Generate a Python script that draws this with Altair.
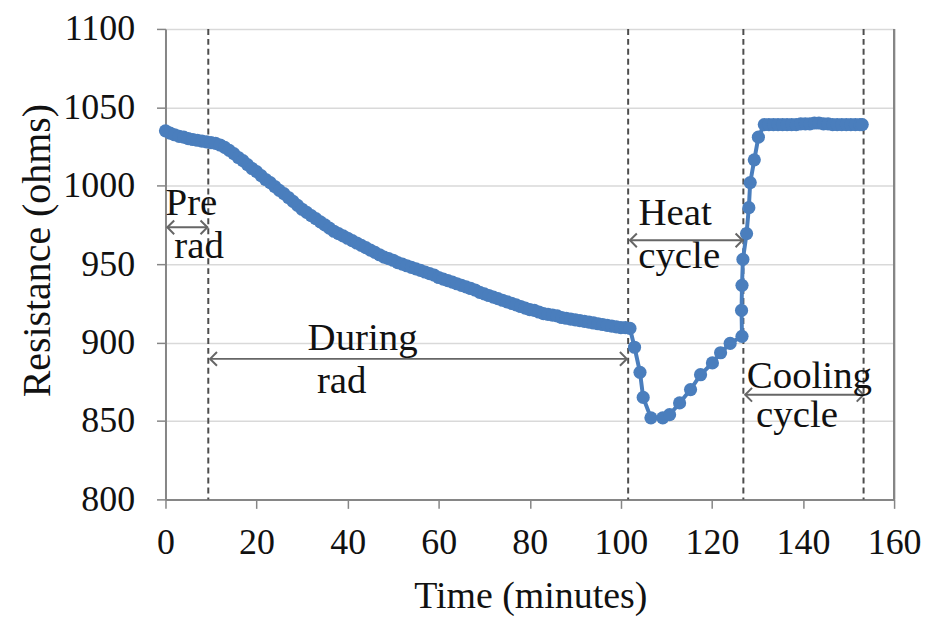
import altair as alt
import pandas as pd

time_min = [0, 1, 2, 3, 4, 5, 6, 7, 8, 9, 10, 11, 12, 13, 14, 15, 16, 17, 18, 19,
            20, 21, 22, 23, 24, 25, 26, 27, 28, 29, 30, 31, 32, 33, 34, 35, 36, 37, 38, 39,
            40, 41, 42, 43, 44, 45, 46, 47, 48, 49, 50, 51, 52, 53, 54, 55, 56, 57, 58, 59,
            60, 61, 62, 63, 64, 65, 66, 67, 68, 69, 70, 71, 72, 73, 74, 75, 76, 77, 78, 79,
            80, 81, 82, 83, 84, 85, 86, 87, 88, 89, 90, 91, 92, 93, 94, 95, 96, 97, 98, 99,
            100, 101, 102,
            103.0, 104.2, 104.9, 106.6, 109.2, 110.7, 112.9, 115.3, 117.5, 120.1, 121.9, 124.0, 126.6,
            126.5, 126.6, 126.8, 127.6, 128.1, 128.4, 129.3, 130.2, 131.5,
            132.5, 133.5, 134.5, 135.5, 136.5, 137.5, 138.5, 139.5, 140.5, 141.5, 142.5,
            143.5, 144.5, 145.5, 146.5, 147.5, 148.5, 149.5, 150.5, 151.5, 152.5, 153.0]
resistance = [1035, 1033.5, 1032.5, 1031.5, 1031, 1030, 1029.5, 1029, 1028.5, 1028,
              1027.5, 1027, 1026, 1024.5, 1022.5, 1020.5, 1018, 1016, 1013.5, 1011,
              1009, 1006.5, 1004, 1002, 999.5, 997, 995, 992.5, 990, 987.5,
              985, 983, 981, 979, 977, 975, 973, 971, 969.5, 968,
              966.5, 965, 963.5, 962, 960.5, 959, 957.5, 956, 954.5, 953.5,
              952.5, 951, 950, 949, 948, 947, 946, 945, 944, 943,
              941.5, 940.5, 939.5, 938.5, 937.5, 936.5, 935.5, 934.5, 933.5, 932,
              931, 930, 929, 928, 927, 926, 925, 924, 923, 922,
              921, 920.5, 919.5, 918.5, 918, 917.5, 917, 916, 915.5, 915,
              914.5, 914, 913.5, 913, 912.5, 912, 911.5, 911, 910.5, 910,
              909.5, 909.5, 909,
              897, 881, 865, 852, 852, 854, 861.5, 870, 879.5, 887, 893.5, 899.5, 904,
              920.5, 936.5, 953, 969.5, 986, 1002, 1016.5, 1031, 1039,
              1039, 1039, 1039, 1039, 1039, 1039, 1039, 1039.5, 1039.5, 1039.5, 1040,
              1040, 1039.5, 1039.5, 1039, 1039, 1039, 1039, 1039, 1039, 1039, 1039]

x_ticks = [0, 20, 40, 60, 80, 100, 120, 140, 160]
y_ticks = [800, 850, 900, 950, 1000, 1050, 1100]

# phase boundaries (dashed lines)
phase_lines = [9.4, 101.6, 126.9, 153.3]

# double-headed arrows
arrow_x1 = [0.4, 9.8, 102.0, 127.3]
arrow_x2 = [9.2, 101.3, 126.7, 153.3]
arrow_y = [973.5, 889.6, 965.2, 866.7]

# annotation labels
ann_text = ["Pre", "rad", "During", "rad", "Heat", "cycle", "Cooling", "cycle"]
ann_x = [5.7, 7.4, 43.3, 38.7, 111.9, 112.8, 141.4, 138.7]
ann_y = [981.1, 953.8, 895.3, 868.0, 974.8, 947.4, 871.1, 846.3]

FONT = "Liberation Serif"
BLUE = "#4A7EBD"
GREY = "#666666"

df = pd.DataFrame({"t": time_min, "r": resistance, "seq": list(range(len(time_min)))})
lines_df = pd.DataFrame({"x": phase_lines})
arrows_df = pd.DataFrame({"x1": arrow_x1, "x2": arrow_x2, "y": arrow_y})
ann_df = pd.DataFrame({"text": ann_text, "x": ann_x, "y": ann_y})

xscale = alt.Scale(domain=[0, 160], nice=False, zero=False)
yscale = alt.Scale(domain=[800, 1100], nice=False, zero=False)

xaxis = alt.Axis(values=x_ticks, title="Time (minutes)", grid=False, labelFlush=False,
                 titleX=366, titleY=108, titleBaseline="alphabetic", titleAlign="center",
                 titleFontSize=38, labelPadding=17)
yaxis = alt.Axis(values=y_ticks, title="Resistance (ohms)", grid=True, format="d",
                 labelFlush=False,
                 titleX=-128, titleY=222, titleAngle=-90, titleBaseline="middle",
                 titleAlign="center", titleFontSize=40, labelPadding=22)

series = alt.Chart(df).mark_line(
    color=BLUE, strokeWidth=4,
    point=alt.OverlayMarkDef(color=BLUE, filled=True, size=175, opacity=1)
).encode(
    x=alt.X("t:Q", scale=xscale, axis=xaxis),
    y=alt.Y("r:Q", scale=yscale, axis=yaxis),
    order="seq:Q",
)

dashed = alt.Chart(lines_df).mark_rule(
    color="#4d4d4d", strokeWidth=2, strokeDash=[6, 4]
).encode(x=alt.X("x:Q", scale=xscale))

arrow_body = alt.Chart(arrows_df).mark_rule(color=GREY, strokeWidth=2).encode(
    x=alt.X("x1:Q", scale=xscale), x2="x2:Q", y=alt.Y("y:Q", scale=yscale)
)
head_left = alt.Chart(arrows_df).mark_point(
    shape="M1,-1L0,0L1,1", filled=False, size=190, strokeWidth=2, color=GREY, opacity=1
).encode(x=alt.X("x1:Q", scale=xscale), y=alt.Y("y:Q", scale=yscale))
head_right = alt.Chart(arrows_df).mark_point(
    shape="M-1,-1L0,0L-1,1", filled=False, size=190, strokeWidth=2, color=GREY, opacity=1
).encode(x=alt.X("x2:Q", scale=xscale), y=alt.Y("y:Q", scale=yscale))

labels = alt.Chart(ann_df).mark_text(
    font=FONT, fontSize=39, align="center", baseline="alphabetic", color="#111111"
).encode(x=alt.X("x:Q", scale=xscale), y=alt.Y("y:Q", scale=yscale), text="text:N")

right_edge = alt.Chart(lines_df).mark_rule(color="#868686", strokeWidth=2).encode(
    x=alt.value(731), y=alt.value(0), y2=alt.value(472)
)

chart = alt.layer(
    dashed, series, arrow_body, head_left, head_right, labels, right_edge
).properties(
    width=731, height=472,
    autosize=alt.AutoSizeParams(type="none"),
    padding={"left": 158, "top": 20, "right": 30, "bottom": 116},
    background="white",
).configure_view(
    stroke=None
).configure_axis(
    labelFont=FONT, labelFontSize=36, labelColor="#111111",
    titleFont=FONT, titleFontWeight="normal", titleColor="#111111",
    domainColor="#868686", domainWidth=2,
    tickColor="#868686", tickSize=9, tickWidth=1.5,
    gridColor="#d9d9d9", gridWidth=1.5,
)

chart.save("out.html", embed_options={"renderer": "svg", "actions": False})
